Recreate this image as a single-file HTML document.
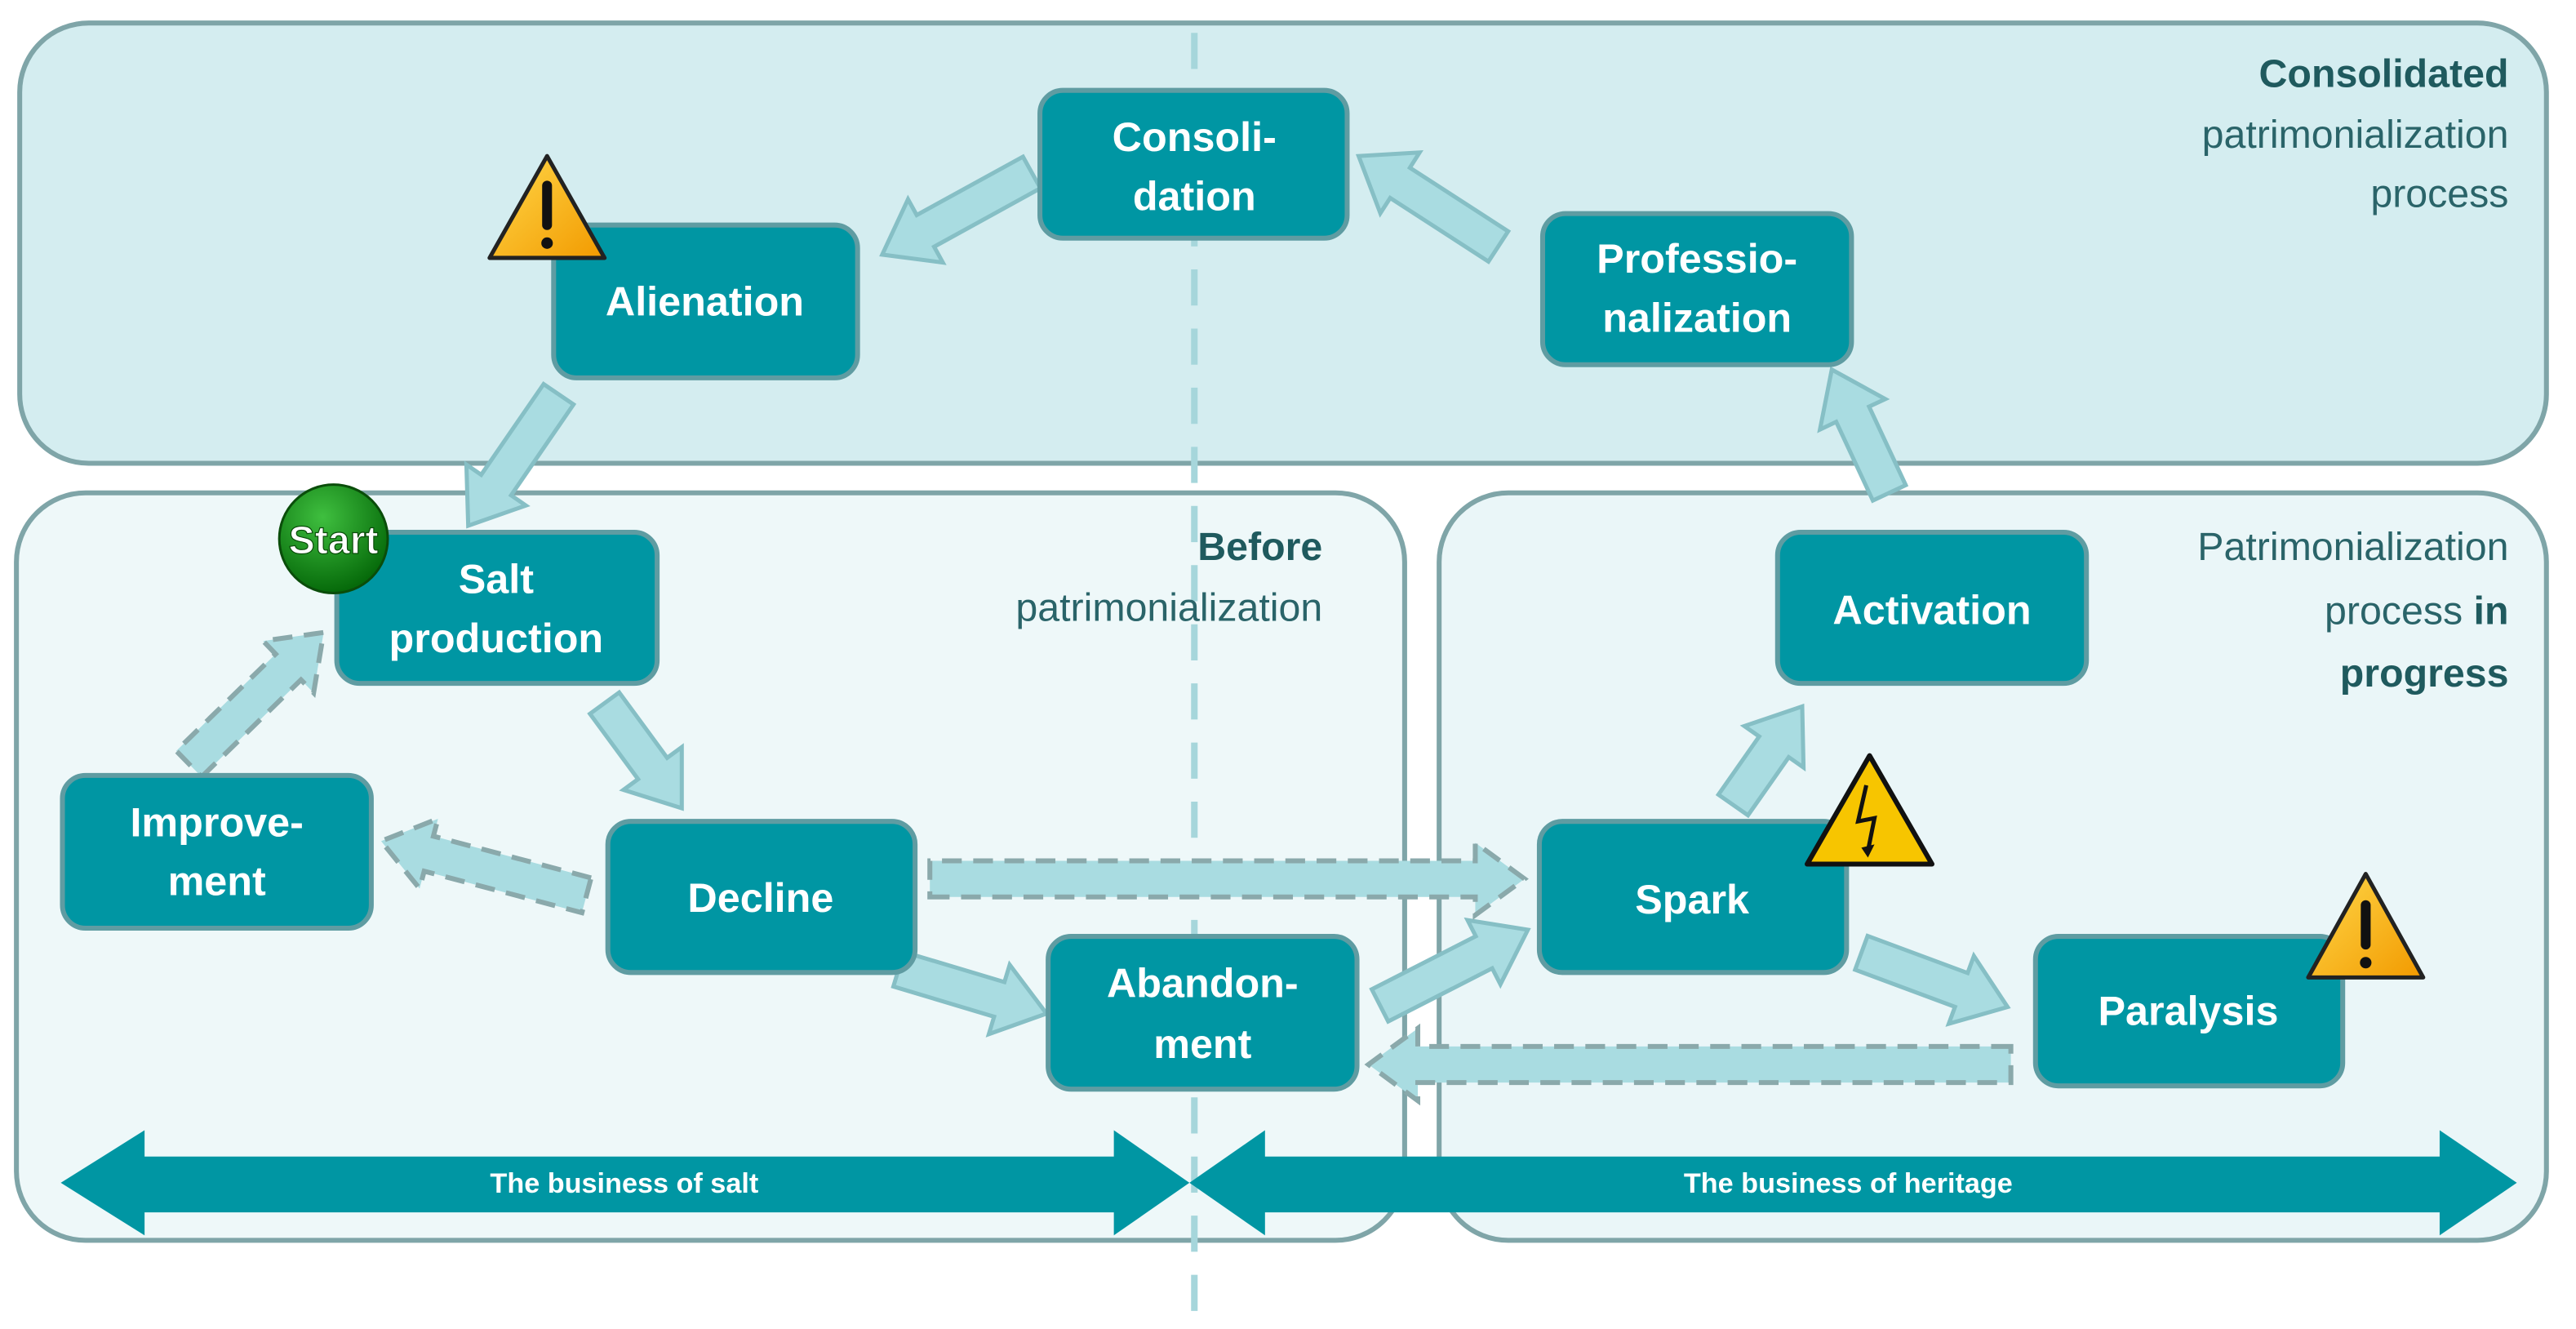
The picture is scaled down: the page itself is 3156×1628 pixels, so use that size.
<!DOCTYPE html>
<html><head><meta charset="utf-8"><style>
html,body{margin:0;padding:0;background:#fff}
svg{display:block}
.n{fill:#0096a3;stroke:#5f9ca2;stroke-width:3}
.nt{font-family:"Liberation Sans",sans-serif;font-weight:bold;font-size:25px;fill:#fff;text-anchor:middle}
.lt{font-family:"Liberation Sans",sans-serif;font-size:24px;fill:#2a6469;text-anchor:end}
.b{font-weight:bold;fill:#1f5a5e}
.bt{font-family:"Liberation Sans",sans-serif;font-weight:bold;font-size:17px;fill:#fff;text-anchor:middle}
</style></head><body>
<svg id="s" width="3156" height="1628" viewBox="0 0 1568 809" preserveAspectRatio="none" xmlns="http://www.w3.org/2000/svg">
<rect x="12" y="14" width="1538" height="268" rx="42" fill="#d4edf0" stroke="#7fa5a8" stroke-width="3"/>
<rect x="10" y="300" width="845" height="455" rx="42" fill="#eef8f9" stroke="#7fa5a8" stroke-width="3"/>
<rect x="876" y="300" width="674" height="455" rx="42" fill="#eaf6f8" stroke="#7fa5a8" stroke-width="3"/>
<line x1="727" y1="20" x2="727" y2="805" stroke="#a6d6db" stroke-width="4" stroke-dasharray="22,14"/>

<text class="lt" x="1527" y="53"><tspan class="b">Consolidated</tspan></text>
<text class="lt" x="1527" y="90">patrimonialization</text>
<text class="lt" x="1527" y="126">process</text>
<text class="lt" x="805" y="341"><tspan class="b">Before</tspan></text>
<text class="lt" x="805" y="378">patrimonialization</text>
<text class="lt" x="1527" y="341">Patrimonialization</text>
<text class="lt" x="1527" y="380">process <tspan class="b">in</tspan></text>
<text class="lt" x="1527" y="418"><tspan class="b">progress</tspan></text>

<g id="arrows"></g>

<rect class="n" x="633" y="55" width="187" height="90" rx="14"/>
<text class="nt" x="727" y="92">Consoli-</text><text class="nt" x="727" y="128">dation</text>
<rect class="n" x="337" y="137" width="185" height="93" rx="14"/>
<text class="nt" x="429" y="192">Alienation</text>
<rect class="n" x="939" y="130" width="188" height="92" rx="14"/>
<text class="nt" x="1033" y="166">Professio-</text><text class="nt" x="1033" y="202">nalization</text>
<rect class="n" x="205" y="324" width="195" height="92" rx="14"/>
<text class="nt" x="302" y="361">Salt</text><text class="nt" x="302" y="397">production</text>
<rect class="n" x="38" y="472" width="188" height="93" rx="14"/>
<text class="nt" x="132" y="509">Improve-</text><text class="nt" x="132" y="545">ment</text>
<rect class="n" x="370" y="500" width="187" height="92" rx="14"/>
<text class="nt" x="463" y="555">Decline</text>
<rect class="n" x="638" y="570" width="188" height="93" rx="14"/>
<text class="nt" x="732" y="607">Abandon-</text><text class="nt" x="732" y="644">ment</text>
<rect class="n" x="937" y="500" width="187" height="92" rx="14"/>
<text class="nt" x="1030" y="556">Spark</text>
<rect class="n" x="1082" y="324" width="188" height="92" rx="14"/>
<text class="nt" x="1176" y="380">Activation</text>
<rect class="n" x="1239" y="570" width="187" height="91" rx="14"/>
<text class="nt" x="1332" y="624">Paralysis</text>

<!-- bottom arrows -->
<polygon fill="#0096a3" points="37,720 88,688 88,704 678,704 678,688 724,720 678,752 678,738 88,738 88,752"/>
<polygon fill="#0096a3" points="724,720 770,688 770,704 1485,704 1485,688 1532,720 1485,752 1485,738 770,738 770,752"/>
<text class="bt" x="380" y="726">The business of salt</text>
<text class="bt" x="1125" y="726">The business of heritage</text>

<!-- icons -->
<defs><linearGradient id="y" x1="0" y1="0" x2="1" y2="1"><stop offset="0" stop-color="#ffd84a"/><stop offset="1" stop-color="#f29a00"/></linearGradient></defs>
<polygon points="333,95 298,157 368,157" fill="url(#y)" stroke="#222" stroke-width="2.5" stroke-linejoin="round"/>
<rect x="330" y="110" width="6" height="30" rx="3" fill="#111"/><circle cx="333" cy="148" r="3.5" fill="#111"/>
<polygon points="1440,532 1405,595 1475,595" fill="url(#y)" stroke="#222" stroke-width="2.5" stroke-linejoin="round"/>
<rect x="1437" y="548" width="6" height="30" rx="3" fill="#111"/><circle cx="1440" cy="586" r="3.5" fill="#111"/>
<polygon points="1138,460 1100,526 1176,526" fill="#f7c500" stroke="#111" stroke-width="3" stroke-linejoin="round"/>
<polyline points="1136,478 1131,500 1141,498 1137,518" fill="none" stroke="#111" stroke-width="2.5"/>
<polygon points="1133,516 1137,522 1141,514" fill="#111"/>
<defs><radialGradient id="g" cx="0.4" cy="0.3" r="0.7"><stop offset="0" stop-color="#3fbf3f"/><stop offset="1" stop-color="#066a0a"/></radialGradient></defs>
<circle cx="203" cy="328" r="33" fill="url(#g)" stroke="#0a4d0a" stroke-width="1.5"/>
<text x="203" y="337" font-family="Liberation Sans,sans-serif" font-weight="bold" font-size="24" fill="#fff" text-anchor="middle" stroke="#0a4d0a" stroke-width="0.6">Start</text>
</svg>
<script>
function arr(x1,y1,x2,y2,dash){
 var dx=x2-x1,dy=y2-y1,L=Math.hypot(dx,dy),ux=dx/L,uy=dy/L,px=-uy,py=ux;
 var w=11,hw=22,hl=30,bx=x2-ux*hl,by=y2-uy*hl;
 var p=[[x1+px*w,y1+py*w],[bx+px*w,by+py*w],[bx+px*hw,by+py*hw],[x2,y2],[bx-px*hw,by-py*hw],[bx-px*w,by-py*w],[x1-px*w,y1-py*w]];
 var s=p.map(function(q){return q[0].toFixed(1)+','+q[1].toFixed(1)}).join(' ');
 return '<polygon points="'+s+'" fill="#a9dce1" stroke="'+(dash?'#8aa9ab':'#86bfc5')+'" stroke-width="'+(dash?3:2.5)+'"'+(dash?' stroke-dasharray="12,7"':'')+' stroke-linejoin="miter"/>';
}
var a=[[628,105,537,155],[912,150,827,95],[340,240,285,320],[1150,300,1115,225],[368,428,415,492],[547,590,637,617],[840,612,930,566],[1055,490,1097,430],[1133,580,1222,613]];
var d=[[357,545,232,512],[115,465,197,385],[566,535,928,535],[1224,648,833,648]];
var h='';a.forEach(function(v){h+=arr(v[0],v[1],v[2],v[3],0)});d.forEach(function(v){h+=arr(v[0],v[1],v[2],v[3],1)});
document.getElementById('arrows').innerHTML=h;
</script>
</body></html>
